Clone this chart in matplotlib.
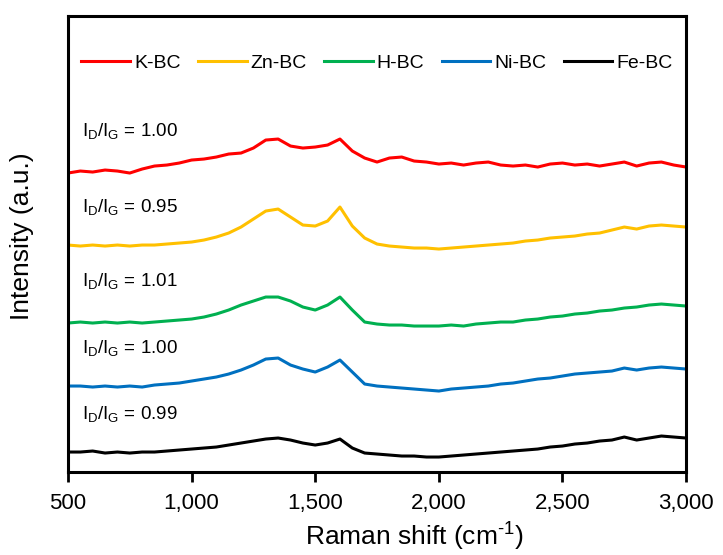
import matplotlib
matplotlib.use("Agg")
import matplotlib.pyplot as plt
from matplotlib.ticker import FuncFormatter

plt.rcParams['font.family'] = ['Liberation Sans', 'DejaVu Sans']
plt.rcParams['mathtext.fontset'] = 'custom'
plt.rcParams['mathtext.rm'] = 'Liberation Sans'
plt.rcParams['mathtext.it'] = 'Liberation Sans'

# Raman shift (cm-1)
shift = [500, 550, 600, 650, 700, 750, 800, 850, 900, 950,
         1000, 1050, 1100, 1150, 1200, 1250, 1300, 1350, 1400, 1450,
         1500, 1550, 1600, 1650, 1700, 1750, 1800, 1850, 1900, 1950,
         2000, 2050, 2100, 2150, 2200, 2250, 2300, 2350, 2400, 2450,
         2500, 2550, 2600, 2650, 2700, 2750, 2800, 2850, 2900, 2950, 3000]

# intensidades (a.u., con desplazamiento vertical)
k_bc = [299, 301, 300, 302, 301, 299, 303, 306, 307, 309,
        312, 313, 315, 318, 319, 324, 332, 333, 326, 324,
        325, 327, 333, 321, 314, 310, 314, 315, 311, 310,
        308, 309, 307, 309, 310, 307, 306, 307, 305, 308,
        309, 307, 308, 306, 308, 310, 306, 309, 310, 307, 305]
zn_bc = [227, 226, 227, 226, 227, 226, 227, 227, 228, 229,
         230, 232, 235, 239, 245, 253, 261, 263, 255, 247,
         246, 251, 265, 246, 234, 228, 226, 225, 224, 224,
         223, 224, 225, 226, 227, 228, 229, 231, 232, 234,
         235, 236, 238, 239, 242, 245, 243, 246, 247, 246, 245]
h_bc = [149, 150, 149, 150, 149, 150, 149, 150, 151, 152,
        153, 155, 158, 162, 167, 171, 175, 175, 171, 165,
        162, 167, 175, 162, 150, 148, 147, 147, 146, 146,
        146, 147, 146, 148, 149, 150, 150, 152, 153, 155,
        156, 158, 159, 161, 162, 164, 165, 167, 168, 167, 166]
ni_bc = [86, 86, 85, 86, 85, 86, 85, 87, 88, 89,
         91, 93, 95, 98, 102, 107, 113, 114, 107, 103,
         100, 105, 112, 100, 88, 86, 85, 84, 83, 82,
         81, 83, 84, 85, 86, 88, 89, 91, 93, 94,
         96, 98, 99, 100, 101, 104, 102, 104, 105, 104, 103]
fe_bc = [20, 20, 21, 19, 20, 19, 20, 20, 21, 22,
         23, 24, 25, 27, 29, 31, 33, 34, 32, 29,
         27, 29, 33, 24, 19, 18, 17, 16, 16, 15,
         15, 16, 17, 18, 19, 20, 21, 22, 23, 25,
         26, 28, 29, 31, 32, 35, 32, 34, 36, 35, 34]

series = [('K-BC', k_bc, '#FF0000'),
          ('Zn-BC', zn_bc, '#FFC000'),
          ('H-BC', h_bc, '#00B050'),
          ('Ni-BC', ni_bc, '#0070C0'),
          ('Fe-BC', fe_bc, '#000000')]

ratios = ['1.00', '0.95', '1.01', '1.00', '0.99']
ratio_y = [341, 265, 191, 124, 58]

fig = plt.figure(figsize=(7.23, 5.55), dpi=100)
ax = fig.add_axes([0.094, 0.1495, 0.855, 0.8216])

for name, vals, color in series:
    ax.plot(shift, vals, color=color, lw=2.2, label=name)

for r, y in zip(ratios, ratio_y):
    ax.text(557, y, r'$\mathregular{I_D/I_G}$ = ' + r, fontsize=13.5, va='center', ha='left')

ax.set_xlim(500, 3000)
ax.set_ylim(0, 456)
ax.set_xticks([500, 1000, 1500, 2000, 2500, 3000])
ax.xaxis.set_major_formatter(FuncFormatter(lambda v, p: f'{int(v):,}'))
ax.set_yticks([])
ax.tick_params(axis='x', direction='out', length=7, width=2, labelsize=16, pad=8)
for s in ax.spines.values():
    s.set_linewidth(2.2)

ax.set_xlabel(r'Raman shift (cm$^{\text{-1}}$)', fontsize=19)
ax.xaxis.set_label_coords(0.56, -0.108)
ax.set_ylabel('Intensity (a.u.)', fontsize=19)
ax.yaxis.set_label_coords(-0.055, 0.518)

ax.legend(loc='center', bbox_to_anchor=(0.5, 0.897), ncol=5, frameon=False,
          fontsize=14, handlelength=2.5, columnspacing=0.9, handletextpad=0.2)

fig.savefig('out.png', dpi=100)
